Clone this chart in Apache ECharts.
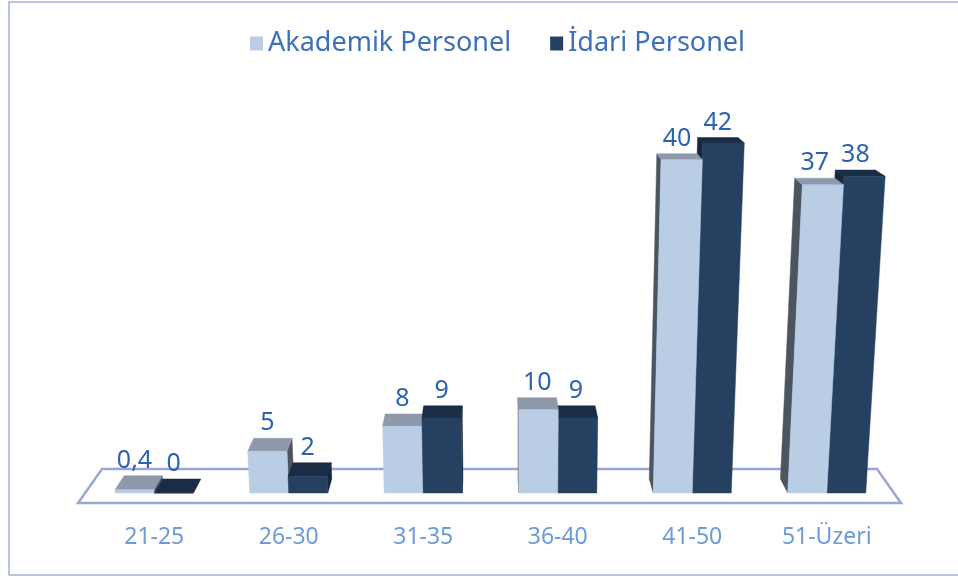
<!DOCTYPE html>
<html>
<head>
<meta charset="utf-8">
<script src="https://cdn.jsdelivr.net/npm/echarts@6/dist/echarts.min.js"></script>
<style>
  html, body { margin: 0; padding: 0; background: #fff; }
  #main { width: 958px; height: 578px; }
</style>
</head>
<body>
<div id="main"></div>
<script>
var categories = ['21-25', '26-30', '31-35', '36-40', '41-50', '51-Üzeri'];
var akademik = [0.4, 5, 8, 10, 40, 37];
var idari = [0, 2, 9, 9, 42, 38];
var seriesNames = ['Akademik Personel', 'İdari Personel'];

// front / top / side colours of the two box series
var boxColors = [
  { front: '#b9cde5', top: '#8e9aab', side: '#4c555f' },
  { front: '#254061', top: '#1b2d45', side: '#17263a' }
];

var DEPTH = 0.0245;     // bar depth, fraction towards vanishing point
var FLOOR_DEPTH = 0.0583;

function toward(p, vp, f) {
  return [p[0] + f * (vp[0] - p[0]), p[1] + f * (vp[1] - p[1])];
}

// slight vertical perspective: bars lean out and widen going up
function lean(cs, base, x, y) {
  var lx = cs.x + cs.width * 0.54;
  var h = base - y;
  return [lx + (x - lx) * (1 + h / 5600), y];
}

function boxRender(idx) {
  var c = boxColors[idx];
  return function (params, api) {
    var cs = params.coordSys;
    var cat = api.value(0), val = api.value(1);
    var b = api.coord([cat, 0]);
    var t = api.coord([cat, val]);
    var w = api.size([1, 0])[0] * 0.29;
    var x0 = idx === 0 ? b[0] - w : b[0];
    var x1 = x0 + w;
    var vp = [cs.x + cs.width / 2, b[1] - 573];

    var fl = lean(cs, b[1], x0, b[1]), fr = lean(cs, b[1], x1, b[1]);
    var tl = lean(cs, b[1], x0, t[1]), tr = lean(cs, b[1], x1, t[1]);
    var btl = toward(tl, vp, DEPTH), btr = toward(tr, vp, DEPTH);
    var bbl = toward(fl, vp, DEPTH), bbr = toward(fr, vp, DEPTH);

    var order = ((b[0] < vp[0]) === (idx === 1)) ? 2 : 1;
    var z = order * 10;
    var children = [];
    if (fl[0] > vp[0]) {
      children.push({ type: 'polygon', z2: z, shape: { points: [fl, tl, btl, bbl] },
        style: { fill: c.side, stroke: c.side, lineWidth: 0.5 } });
    }
    if (fr[0] < vp[0]) {
      children.push({ type: 'polygon', z2: z, shape: { points: [fr, tr, btr, bbr] },
        style: { fill: c.side, stroke: c.side, lineWidth: 0.5 } });
    }
    children.push({ type: 'polygon', z2: z + 1, shape: { points: [tl, tr, btr, btl] },
      style: { fill: c.top, stroke: c.top, lineWidth: 0.5 } });
    children.push({ type: 'polygon', z2: z + 2, shape: { points: [fl, fr, tr, tl] },
      style: { fill: c.front, stroke: c.front, lineWidth: 0.5 } });

    var fc = (tl[0] + tr[0]) / 2;
    var lx = fc + Math.min(0, DEPTH * (vp[0] - fc));
    children.push({ type: 'text', z2: 100,
      style: { text: String(val).replace('.', ','), x: lx, y: btl[1] - 15,
        fill: '#2e62ae', fontSize: 25, fontFamily: 'Noto Sans',
        align: 'center', verticalAlign: 'middle' } });
    return { type: 'group', children: children };
  };
}

function floorRender(params, api) {
  var cs = params.coordSys;
  var base = api.coord([0, 0])[1];
  var vp = [cs.x + cs.width / 2, base - 573];
  var fl = [cs.x - 9, base + 10], fr = [cs.x + cs.width + 7, base + 10];
  var bl = toward(fl, vp, FLOOR_DEPTH), br = toward(fr, vp, FLOOR_DEPTH);
  return {
    type: 'polygon', z2: 0,
    shape: { points: [fl, bl, br, fr] },
    style: { fill: '#fff', stroke: '#98a8d2', lineWidth: 2.5 }
  };
}

var myChart = echarts.init(document.getElementById('main'));
var option = {
  animation: false,
  graphic: [{
    type: 'rect', silent: true,
    shape: { x: 9, y: 2, width: 960, height: 573 },
    style: { fill: 'none', stroke: '#a3b1d6', lineWidth: 1.5 }
  }],
  legend: {
    data: seriesNames,
    left: 245, top: 25,
    icon: 'rect', itemWidth: 13, itemHeight: 14, itemGap: 39,
    textStyle: { color: '#3d70bb', fontSize: 27, fontFamily: 'Noto Sans' }
  },
  grid: { left: 87, right: 64, top: 118, bottom: 85 },
  xAxis: {
    type: 'category',
    data: categories,
    axisLine: { show: false },
    axisTick: { show: false },
    axisLabel: { color: '#6d9bd8', fontSize: 23, fontFamily: 'Noto Sans', margin: 33 }
  },
  yAxis: { type: 'value', min: 0, max: 45, show: false },
  series: [
    {
      name: 'floor', type: 'custom', silent: true, z: 1,
      renderItem: floorRender, data: [[0, 0]]
    },
    {
      name: seriesNames[0], type: 'custom', z: 2,
      itemStyle: { color: boxColors[0].front },
      renderItem: boxRender(0),
      data: akademik.map(function (v, i) { return [i, v]; })
    },
    {
      name: seriesNames[1], type: 'custom', z: 2,
      itemStyle: { color: boxColors[1].front },
      renderItem: boxRender(1),
      data: idari.map(function (v, i) { return [i, v]; })
    }
  ]
};
myChart.setOption(option);
</script>
</body>
</html>
